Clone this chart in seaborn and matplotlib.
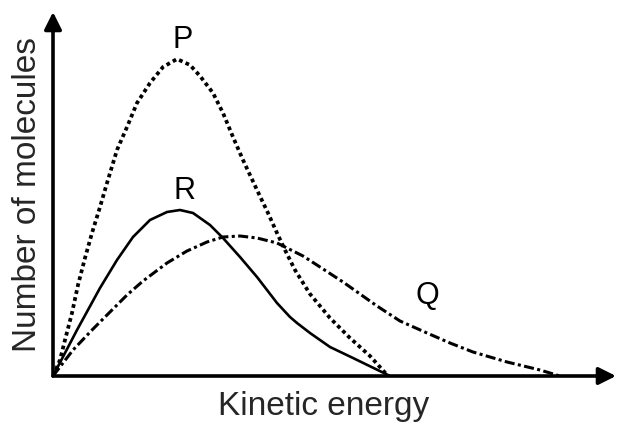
import matplotlib
matplotlib.use("Agg")
import matplotlib.pyplot as plt
import seaborn as sns
import pandas as pd

# Curves (arbitrary units: x = kinetic energy, y = number of molecules)
p_x = [0, 7, 12, 19, 25, 32, 39, 47, 54, 64, 74, 84, 97, 110, 124, 137, 147, 160, 170, 180,
       190, 204, 215, 224, 232, 242, 257, 277, 297, 317, 335]
p_y = [0, 16, 36, 63, 91, 118, 143, 169, 193, 226, 249, 273, 293, 309, 317, 311, 300, 283,
       263, 239, 216, 186, 163, 143, 126, 106, 82, 58, 38, 20, 0]

r_x = [0, 24, 47, 64, 80, 97, 114, 127, 140, 157, 170, 187, 204, 224, 237, 244, 257, 267,
       277, 300, 337]
r_y = [0, 46, 88, 116, 139, 156, 164, 166, 163, 151, 138, 119, 99, 73, 59, 53, 43, 36, 29,
       18, 0]

q_x = [0, 20, 40, 62, 74, 90, 114, 134, 154, 170, 187, 204, 224, 230, 250, 267, 290, 307,
       324, 347, 374, 397, 420, 454, 487, 507]
q_y = [0, 26, 47, 69, 81, 95, 113, 125, 134, 139, 140, 138, 133, 130, 120, 109, 94, 82,
       70, 55, 43, 33, 24, 14, 6, 0]

labels = ["P", "R", "Q"]
label_x = [130, 132, 374]
label_y = [321, 170, 65]

df = pd.concat([
    pd.DataFrame({"x": p_x, "y": p_y, "curve": "P"}),
    pd.DataFrame({"x": r_x, "y": r_y, "curve": "R"}),
    pd.DataFrame({"x": q_x, "y": q_y, "curve": "Q"}),
])

sns.set_style("white")
plt.rcParams["font.family"] = ["Liberation Sans", "DejaVu Sans"]

fig = plt.figure(figsize=(6.17, 4.22), dpi=100)
W, H = 617, 422
ox, oy = 53, 376
ax = fig.add_axes([ox / W, (H - oy) / H, (616 - ox) / W, (oy - 12) / H])

styles = {"P": dict(linestyle=(0, (1, 0.9)), linewidth=2.7),
          "R": dict(linestyle="-", linewidth=1.9),
          "Q": dict(linestyle=(0, (3.3, 1.1, 1, 1.1)), linewidth=2.2)}
for name in ["P", "R", "Q"]:
    sub = df[df["curve"] == name]
    sns.lineplot(data=sub, x="x", y="y", ax=ax, color="black", estimator=None,
                 sort=False, **styles[name])

for t, x, y in zip(labels, label_x, label_y):
    ax.text(x, y, t, fontsize=22, ha="center", va="bottom", color="black")

ax.set_xlim(0, 563)
ax.set_ylim(0, 364)
for s in ax.spines.values():
    s.set_visible(False)
ax.set_xticks([])
ax.set_yticks([])
ax.set_xlabel("")
ax.set_ylabel("")

arrow = dict(arrowstyle="-|>", lw=2.6, color="black", mutation_scale=26, shrinkA=0, shrinkB=0)
ax.annotate("", xy=(0, 1), xytext=(0, 0), xycoords="axes fraction", arrowprops=arrow,
            annotation_clip=False)
ax.annotate("", xy=(1, 0), xytext=(0, 0), xycoords="axes fraction", arrowprops=arrow,
            annotation_clip=False)

fig.text(324 / W, 1 - 406 / H, "Kinetic energy", fontsize=24, ha="center", va="center")
fig.text(28 / W, 1 - 195 / H, "Number of molecules", fontsize=24, ha="center", va="center",
         rotation=90)

fig.savefig("out.png", dpi=100)
